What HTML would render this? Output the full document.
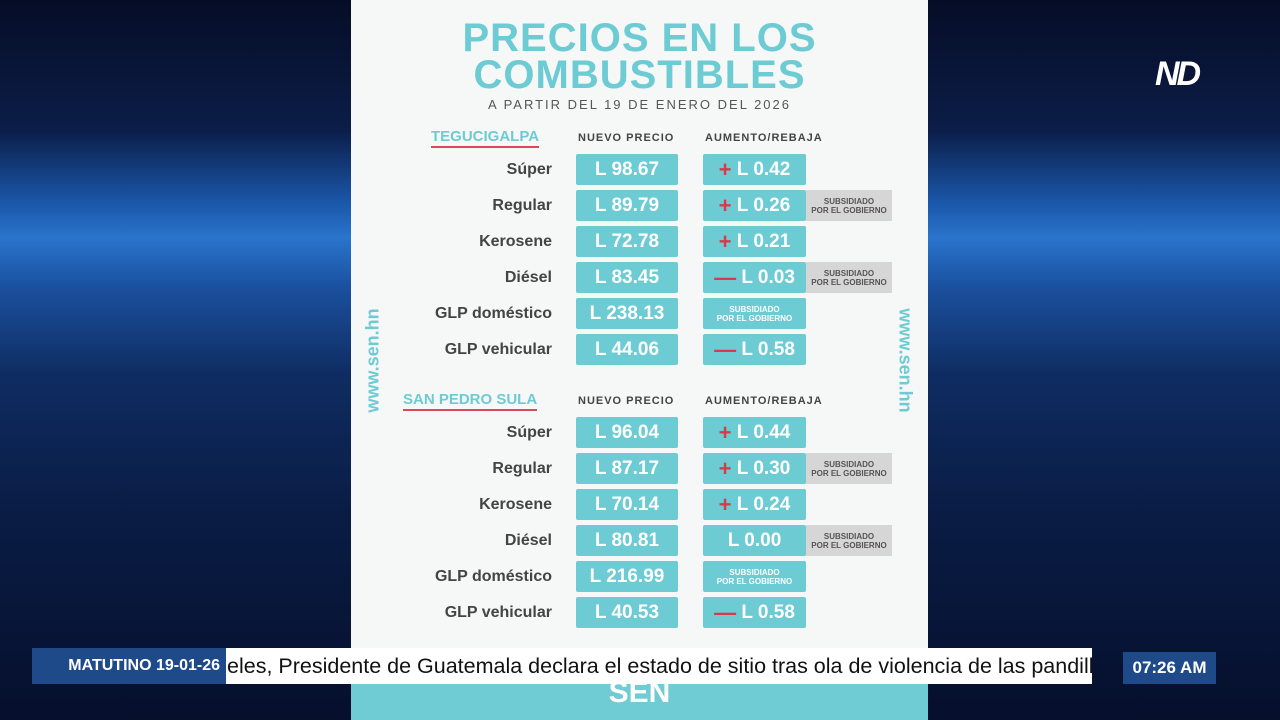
<!DOCTYPE html>
<html><head><meta charset="utf-8">
<style>
*{margin:0;padding:0;box-sizing:border-box}
body{width:1280px;height:720px;overflow:hidden;position:relative;font-family:"Liberation Sans",sans-serif;
background:linear-gradient(180deg,#060d26 0%,#0b1d48 18%,#1a56a8 28%,#2a74cc 33%,#1a509e 40%,#0f2c62 52%,#0a1d46 70%,#060f2c 100%);}
#panel{position:absolute;left:351px;top:0;width:577px;height:720px;background:#f6f7f7;}
.abs{position:absolute}
.title{left:0;width:577px;text-align:center;color:#6dcbd4;font-weight:bold;font-size:40px;letter-spacing:1px;line-height:40px}
.sub{left:0;width:577px;text-align:center;color:#555;font-size:13px;letter-spacing:2px;top:97px}
.city{color:#6dcbd4;font-weight:bold;font-size:15px;border-bottom:2px solid #d84a55;padding-bottom:1px}
.colh{color:#444;font-weight:bold;font-size:11px;letter-spacing:1px}
.lbl{left:0;width:201px;color:#444;font-weight:bold;font-size:16px;text-align:right;line-height:31px;height:31px}
.box{background:#6dcbd4;color:#fff;font-weight:bold;font-size:19px;height:31px;line-height:31px;text-align:center;border-radius:2px}
.pr{left:225px;width:102px}
.ch{left:352px;width:103px}
.sign{color:#d83a4a;font-size:22px;line-height:31px;display:inline-block;vertical-align:top}
.sub2{font-size:8px;line-height:9px;padding-top:7px;color:#fff}
.badge{left:455px;width:86px;height:31px;background:#d6d6d6;color:#555;font-size:8px;font-weight:bold;text-align:center;line-height:9px;padding-top:7px}
.side{color:#6dcbd4;font-weight:bold;font-size:18px;transform:rotate(-90deg);transform-origin:center;width:140px;text-align:center}
</style></head><body>
<div id="panel">
<div class="abs title" style="top:18px">PRECIOS EN LOS</div>
<div class="abs title" style="top:55px">COMBUSTIBLES</div>
<div class="abs sub">A PARTIR DEL 19 DE ENERO DEL 2026</div>
<div class="abs side" style="left:-48px;top:350px">www.sen.hn</div>
<div class="abs side" style="left:484px;top:350px;transform:rotate(90deg)">www.sen.hn</div>
<div id="rows"></div>
<div class="abs" style="left:0;top:648px;width:577px;height:72px;background:#6fcbd4">
<div style="text-align:center;color:#fff;font-weight:bold;font-size:30px;margin-top:28px">SEN</div></div>
</div>
<div class="abs" style="left:1155px;top:55px;color:#fff;font-weight:bold;font-size:34px;font-style:italic;letter-spacing:-3px">ND</div>
<div class="abs" style="left:32px;top:648px;width:194px;height:36px;background:#1f4a8a;color:#fff;font-weight:bold;font-size:16px;line-height:36px;text-align:right;padding-right:6px">MATUTINO 19-01-26</div>
<div class="abs" style="left:226px;top:648px;width:866px;height:36px;background:#fff;color:#111;font-size:21.5px;line-height:36px;white-space:nowrap;overflow:hidden;padding-left:1px">eles, Presidente de Guatemala declara el estado de sitio tras ola de violencia de las pandill</div>
<div class="abs" style="left:1123px;top:652px;width:93px;height:32px;background:#1f4a8a;color:#fff;font-weight:bold;font-size:17px;line-height:32px;text-align:center">07:26 AM</div>
<script>
const cities=["TEGUCIGALPA","SAN PEDRO SULA"];
const products=["Súper","Regular","Kerosene","Diésel","GLP doméstico","GLP vehicular"];
const prices=[["98.67","89.79","72.78","83.45","238.13","44.06"],["96.04","87.17","70.14","80.81","216.99","40.53"]];
const changes=[["+0.42","+0.26","+0.21","-0.03","S","-0.58"],["+0.44","+0.30","+0.24","0.00","S","-0.58"]];
const subsid=[[0,1,0,1,0,0],[0,1,0,1,0,0]];
const rows=document.getElementById('rows');
const headY=[138,401];
function add(html){const d=document.createElement('div');d.innerHTML=html;const e=d.firstChild;rows.appendChild(e);return e;}
cities.forEach((c,ci)=>{
 const hy=headY[ci];
 let e=add(`<div class="abs city" style="left:${ci?52:80}px;top:${hy-10}px">${c}</div>`);
 
 
 e=add(`<div class="abs colh" style="left:227px;top:${hy-6}px">NUEVO PRECIO</div>`);
 
 
 e=add(`<div class="abs colh" style="left:354px;top:${hy-6}px">AUMENTO/REBAJA</div>`);
 
 
 products.forEach((p,i)=>{
  const y=hy+16+i*36;
  e=add(`<div class="abs lbl" style="top:${y}px">${p}</div>`);
  
  
  e=add(`<div class="abs box pr" style="top:${y}px">L ${prices[ci][i]}</div>`);
  
  
  const v=changes[ci][i];let inner;
  if(v==="S")inner=`<div class="sub2">SUBSIDIADO<br>POR EL GOBIERNO</div>`;
  else if(v[0]==='+')inner=`<span class="sign">+</span> L ${v.slice(1)}`;
  else if(v[0]==='-')inner=`<span class="sign">—</span> L ${v.slice(1)}`;
  else inner=`L ${v}`;
  e=add(`<div class="abs box ch" style="top:${y}px">${inner}</div>`);
  
  
  if(subsid[ci][i]){
   e=add(`<div class="abs badge" style="top:${y}px">SUBSIDIADO<br>POR EL GOBIERNO</div>`);
   
   
  }
 });
});
</script>
</body></html>
